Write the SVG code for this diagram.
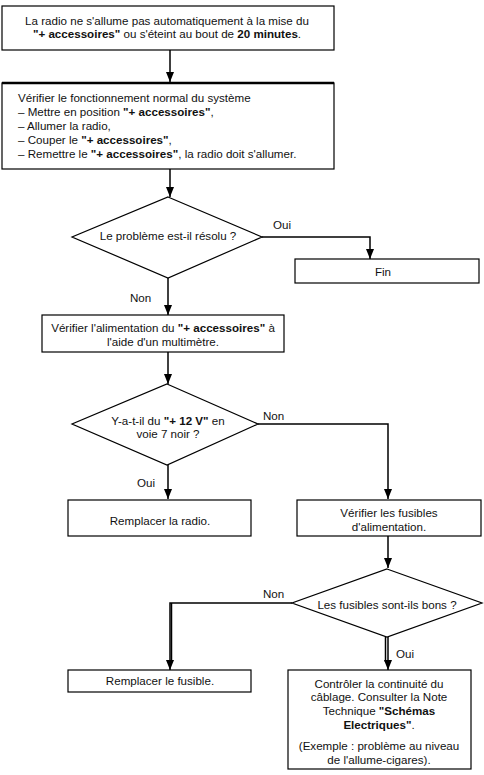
<svg xmlns="http://www.w3.org/2000/svg" width="484" height="775" viewBox="0 0 484 775">
<style>
.b{fill:#fff;stroke:#000;stroke-width:1.2}
.t{font-family:"Liberation Sans",Arial,sans-serif;font-size:11.6px;fill:#111}
.c{text-anchor:middle}
.k{font-weight:bold}
.l{fill:none;stroke:#000;stroke-width:1.5}
</style>
<defs>
<marker id="ar" markerUnits="userSpaceOnUse" markerWidth="10" markerHeight="10" viewBox="0 0 10 10" refX="10" refY="5" orient="auto">
<path d="M0,1 L10,5 L0,9 Z" fill="#000"/>
</marker>
</defs>
<rect width="484" height="775" fill="#fff"/>
<g id="connectors">
<line class="l" x1="170" y1="50" x2="170" y2="82" marker-end="url(#ar)"/>
<line class="l" x1="170" y1="169" x2="170" y2="197" marker-end="url(#ar)"/>
<polyline class="l" points="262,237 370,237 370,259" marker-end="url(#ar)"/>
<line class="l" x1="168" y1="278" x2="168" y2="315" marker-end="url(#ar)"/>
<line class="l" x1="168" y1="352" x2="168" y2="384" marker-end="url(#ar)"/>
<polyline class="l" points="258,424 388,424 388,499" marker-end="url(#ar)"/>
<line class="l" x1="168" y1="465" x2="168" y2="499" marker-end="url(#ar)"/>
<line class="l" x1="388" y1="536" x2="388" y2="568" marker-end="url(#ar)"/>
<polyline class="l" points="292,603 170,603 170,670" marker-end="url(#ar)"/>
<line class="l" x1="171.5" y1="603" x2="171.5" y2="662"/>
<line class="l" x1="385.5" y1="637" x2="385.5" y2="662"/>
<line class="l" x1="388" y1="637" x2="388" y2="670" marker-end="url(#ar)"/>
<text class="t" x="273" y="229">Oui</text>
<text class="t" x="130" y="302">Non</text>
<text class="t" x="263" y="420">Non</text>
<text class="t" x="137" y="487">Oui</text>
<text class="t" x="263" y="598">Non</text>
<text class="t" x="396" y="658">Oui</text>
</g>
<g id="n1">
<rect class="b" x="2" y="6" width="332" height="44"/>
<text class="t c" x="167" y="25">La radio ne s'allume pas automatiquement à la mise du</text>
<text class="t c" x="167" y="38"><tspan class="k">"+ accessoires"</tspan> ou s'éteint au bout de <tspan class="k">20 minutes</tspan>.</text>
</g>
<g id="n2">
<rect class="b" x="2" y="83" width="332" height="86"/>
<line x1="2" y1="83" x2="334" y2="83" stroke="#000" stroke-width="2.5"/>
<text class="t" x="18" y="102">Vérifier le fonctionnement normal du système</text>
<text class="t" x="18" y="116">– Mettre en position <tspan class="k">"+ accessoires"</tspan>,</text>
<text class="t" x="18" y="130">– Allumer la radio,</text>
<text class="t" x="18" y="144">– Couper le <tspan class="k">"+ accessoires"</tspan>,</text>
<text class="t" x="18" y="158">– Remettre le <tspan class="k">"+ accessoires"</tspan>, la radio doit s'allumer.</text>
</g>
<g id="d1">
<polygon class="b" points="168,197 262,237 168,278 72,237"/>
<text class="t c" x="168" y="240">Le problème est-il résolu ?</text>
</g>
<g id="fin">
<rect class="b" x="295" y="259" width="184" height="24"/>
<text class="t c" x="383" y="276">Fin</text>
</g>
<g id="n3">
<rect class="b" x="42" y="315" width="242" height="37"/>
<text class="t c" x="163" y="332">Vérifier l'alimentation du <tspan class="k">"+ accessoires"</tspan> à</text>
<text class="t c" x="163" y="346">l'aide d'un multimètre.</text>
</g>
<g id="d2">
<polygon class="b" points="167,384 258,424 167,465 72,424"/>
<text class="t c" x="168" y="425">Y-a-t-il du <tspan class="k">"+ 12 V"</tspan> en</text>
<text class="t c" x="168" y="438">voie 7 noir ?</text>
</g>
<g id="n4">
<rect class="b" x="68" y="500" width="183" height="36"/>
<text class="t c" x="160" y="525">Remplacer la radio.</text>
</g>
<g id="n5">
<rect class="b" x="297" y="500" width="184" height="36"/>
<text class="t c" x="389" y="517">Vérifier les fusibles</text>
<text class="t c" x="389" y="531">d'alimentation.</text>
</g>
<g id="d3">
<polygon class="b" points="387,569 482,603 387,637 292,603"/>
<text class="t c" x="387" y="609">Les fusibles sont-ils bons ?</text>
</g>
<g id="n6">
<rect class="b" x="68" y="670" width="183" height="22"/>
<text class="t c" x="160" y="685">Remplacer le fusible.</text>
</g>
<g id="n7">
<rect class="b" x="288" y="670" width="183" height="99"/>
<text class="t c" x="379" y="688">Contrôler la continuité du</text>
<text class="t c" x="379" y="701">câblage. Consulter la Note</text>
<text class="t c" x="379" y="715">Technique <tspan class="k">"Schémas</tspan></text>
<text class="t c" x="379" y="729"><tspan class="k">Electriques"</tspan>.</text>
<text class="t c" x="379" y="750">(Exemple : problème au niveau</text>
<text class="t c" x="379" y="764">de l'allume-cigares).</text>
</g>
</svg>
